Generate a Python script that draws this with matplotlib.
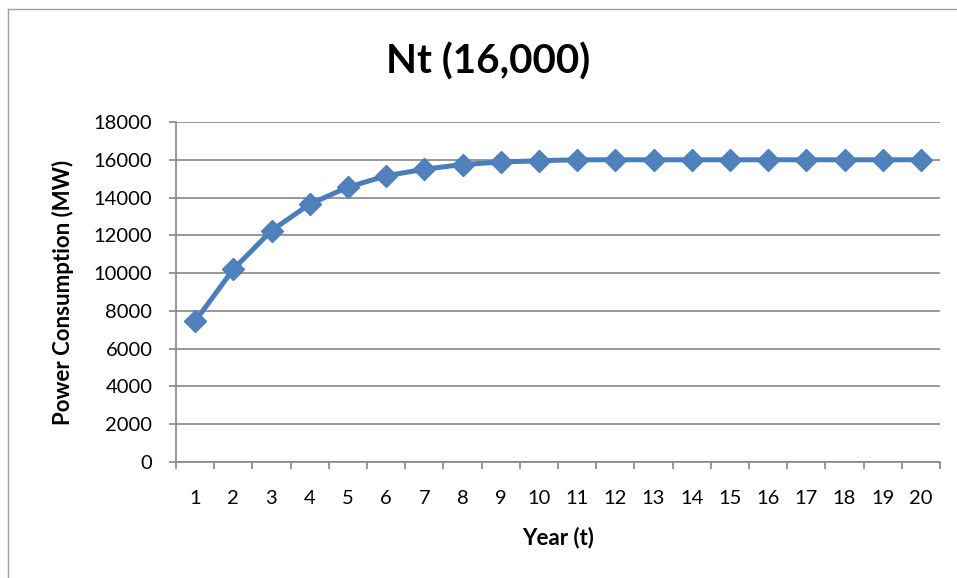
import matplotlib.pyplot as plt
from matplotlib.lines import Line2D

# data
years = list(range(1, 21))
power = [7450, 10200, 12250, 13650, 14550, 15150, 15500, 15750, 15880, 15950,
         16000, 16000, 16000, 16000, 16000, 16000, 16000, 16000, 16000, 16000]
y_ticks = list(range(0, 18001, 2000))

plt.rcParams['font.family'] = ['Lato', 'DejaVu Sans']

fig = plt.figure(figsize=(9.57, 5.78), dpi=100)
ax = fig.add_axes([176/957, 1 - 462/578, (940 - 176)/957, (462 - 122)/578])

grid_col = '#868686'
ax.plot(years, power, color='#4A7EBB', lw=3.6, marker='D', markersize=11,
        markeredgecolor='#4A7EBB', markerfacecolor='#4F81BD', zorder=3)

ax.set_xlim(0.5, 20.5)
ax.set_ylim(0, 18000)
ax.set_yticks(y_ticks)
ax.set_xticks(years)
ax.set_xticks([i + 0.5 for i in range(0, 21)], minor=True)
ax.tick_params(axis='x', which='major', length=0, labelsize=14.5, pad=20)
ax.tick_params(axis='x', which='minor', length=5, color=grid_col, width=1.2)
ax.tick_params(axis='y', length=5, color=grid_col, width=1.2, labelsize=14.5, pad=12)
ax.grid(axis='y', color=grid_col, lw=1.2)
ax.set_axisbelow(True)
for s in ['top', 'right']:
    ax.spines[s].set_visible(False)
for s in ['left', 'bottom']:
    ax.spines[s].set_color(grid_col)
    ax.spines[s].set_linewidth(1.2)

ax.set_xlabel('Year (t)', fontsize=16, fontweight='bold', labelpad=14)
ax.set_ylabel('Power Consumption (MW)', fontsize=16, fontweight='bold', labelpad=14)
fig.text(488/957, 1 - 62/578, 'Nt (16,000)', fontsize=29, fontweight='bold',
         ha='center', va='center')

# chart area border, partly cut off
fig.add_artist(Line2D([8/957, 1.0], [1 - 9/578, 1 - 9/578], color='#A0A0A0', lw=1))
fig.add_artist(Line2D([8/957, 8/957], [0, 1 - 9/578], color='#A0A0A0', lw=1))

plt.savefig('out.png', dpi=100)
